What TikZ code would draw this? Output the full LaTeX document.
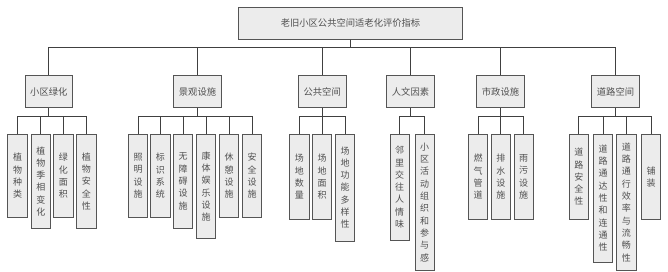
\documentclass[tikz,border=0pt]{standalone}
\usepackage{fontspec}
\newfontfamily\cjk{Noto Sans CJK SC}
\definecolor{boxfill}{HTML}{ECECEC}
\definecolor{boxline}{HTML}{555555}
\definecolor{wire}{HTML}{404040}
\definecolor{txt}{HTML}{505050}
\begin{document}
\begin{tikzpicture}[x=1pt,y=-1pt,
  box/.style={draw=boxline,line width=1pt,fill=boxfill,text=txt,inner sep=0pt,font=\cjk\fontsize{9.3}{11}\selectfont},
  topbox/.style={box,minimum width=224.4pt,minimum height=32pt},
  catbox/.style={box,minimum width=47.6pt,minimum height=32pt},
  leafbox/.style={box,anchor=north,minimum width=19.4pt,align=center,font=\cjk\fontsize{9}{12.3}\selectfont},
  wireline/.style={draw=wire,line width=0.9pt}]
\useasboundingbox (0,0) rectangle (668,271);
% top
\node[topbox] (top) at (350.5,23.3) {老旧小区公共空间适老化评价指标};
% categories
\node[catbox] (c1) at (48.8,91.7) {小区绿化};
\node[catbox] (c2) at (197.5,91.7) {景观设施};
\node[catbox] (c3) at (322.2,91.7) {公共空间};
\node[catbox] (c4) at (410.5,91.7) {人文因素};
\node[catbox] (c5) at (500.5,91.7) {市政设施};
\node[catbox] (c6) at (615.5,91.7) {道路空间};
% leaves
\newcommand{\leaf}[5]{\node[leafbox,minimum height=#4-133.5] (#1) at (#2,133.5) {#5};}
\leaf{a1}{17.6}{0}{217.3}{植\\物\\种\\类}
\leaf{a2}{40.8}{0}{228.3}{植\\物\\季\\相\\变\\化}
\leaf{a3}{63.3}{0}{217.3}{绿\\化\\面\\积}
\leaf{a4}{86.3}{0}{228.3}{植\\物\\安\\全\\性}
\leaf{b1}{138}{0}{217.3}{照\\明\\设\\施}
\leaf{b2}{160.3}{0}{217.3}{标\\识\\系\\统}
\leaf{b3}{183}{0}{228.3}{无\\障\\碍\\设\\施}
\leaf{b4}{206}{0}{238.3}{康\\体\\娱\\乐\\设\\施}
\leaf{b5}{229}{0}{217.3}{休\\憩\\设\\施}
\leaf{b6}{252}{0}{217.3}{安\\全\\设\\施}
\leaf{d1}{299.3}{0}{219.3}{场\\地\\数\\量}
\leaf{d2}{322}{0}{219.3}{场\\地\\面\\积}
\leaf{d3}{345}{0}{240.7}{场\\地\\功\\能\\多\\样\\性}
\leaf{e1}{399.7}{0}{240}{邻\\里\\交\\往\\人\\情\\味}
\leaf{e2}{424.7}{0}{270}{小\\区\\活\\动\\组\\织\\和\\参\\与\\感}
\leaf{f1}{478}{0}{219.3}{燃\\气\\管\\道}
\leaf{f2}{500.8}{0}{219.3}{排\\水\\设\\施}
\leaf{f3}{523.7}{0}{219.3}{雨\\污\\设\\施}
\leaf{g1}{578.8}{0}{219.3}{道\\路\\安\\全\\性}
\leaf{g2}{603}{0}{261.7}{道\\路\\通\\达\\性\\和\\连\\通\\性}
\leaf{g3}{626.3}{0}{270}{道\\路\\通\\行\\效\\率\\与\\流\\畅\\性}
\leaf{g4}{651.2}{0}{219.3}{铺\\装}
% connectors
\foreach \c in {c1,c2,c3,c4,c5,c6}
  \draw[wireline] (top.south) -- ++(0,7.4) -| (\c.north);
\foreach \l in {a1,a2,a3,a4} \draw[wireline] (c1.south) -- ++(0,8) -| (\l.north);
\foreach \l in {b1,b2,b3,b4,b5,b6} \draw[wireline] (c2.south) -- ++(0,8) -| (\l.north);
\foreach \l in {d1,d2,d3} \draw[wireline] (c3.south) -- ++(0,8) -| (\l.north);
\foreach \l in {e1,e2} \draw[wireline] (c4.south) -- ++(0,8) -| (\l.north);
\foreach \l in {f1,f2,f3} \draw[wireline] (c5.south) -- ++(0,8) -| (\l.north);
\foreach \l in {g1,g2,g3,g4} \draw[wireline] (c6.south) -- ++(0,8) -| (\l.north);
\end{tikzpicture}
\end{document}
